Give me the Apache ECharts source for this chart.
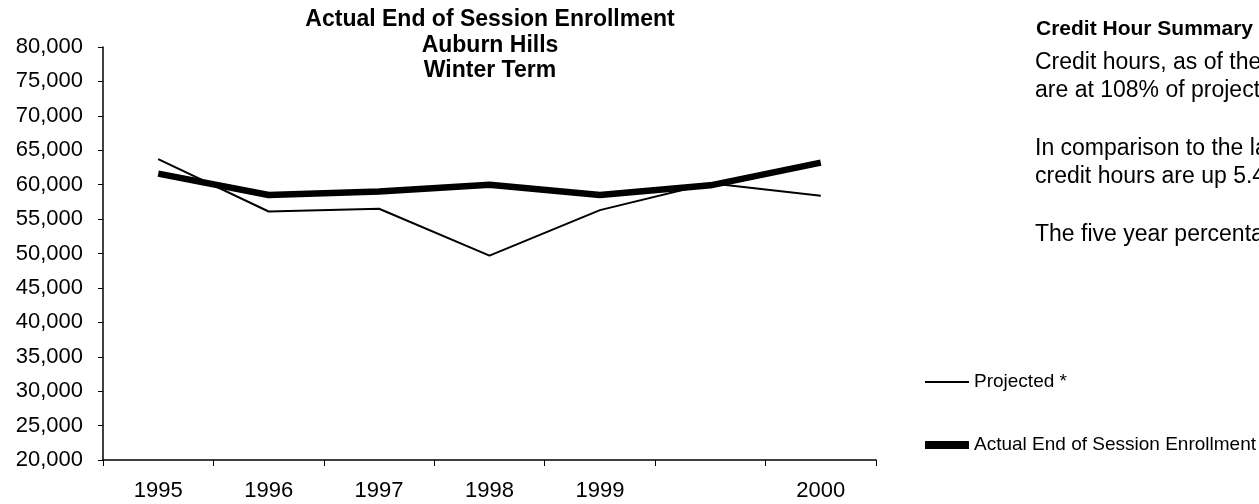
<!DOCTYPE html>
<html>
<head>
<meta charset="utf-8">
<script src="https://cdn.jsdelivr.net/npm/echarts@6/dist/echarts.min.js"></script>
<style>
html,body{margin:0;padding:0;background:#fff;overflow:hidden;}
#c{width:1259px;height:504px;}
</style>
</head>
<body>
<div id="c"></div>
<script>
var categories = ['1995', '1996', '1997', '1998', '1999', '', '2000'];
var projected = [63700, 56100, 56500, 49700, 56300, 60200, 58400];
var actual = [61600, 58500, 59000, 60000, 58500, 59900, 63200];
var titleLines = ['Actual End of Session Enrollment', 'Auburn Hills', 'Winter Term'];
var summaryHeading = 'Credit Hour Summary';
var summaryLines = [
  ['Credit hours, as of the end', 63],
  ['are at 108% of projected', 91],
  ['In comparison to the last', 149],
  ['credit hours are up 5.4%', 177],
  ['The five year percentage', 235]
];
var seriesNames = ['Projected *', 'Actual End of Session Enrollment'];

var FONT = 'Arial, "Liberation Sans", sans-serif';
var chart = echarts.init(document.getElementById('c'), null, {renderer: 'canvas'});

var graphics = [];
titleLines.forEach(function (t, i) {
  graphics.push({
    type: 'text', x: 490, y: 20 + i * 25.5,
    style: {text: t, fontFamily: FONT, fontSize: 23, fontWeight: 'bold', fill: '#000',
      textAlign: 'center', textVerticalAlign: 'middle'}
  });
});
graphics.push({
  type: 'text', x: 1036, y: 29,
  style: {text: summaryHeading, fontFamily: FONT, fontSize: 21, fontWeight: 'bold', fill: '#000',
    textAlign: 'left', textVerticalAlign: 'middle'}
});
summaryLines.forEach(function (s) {
  graphics.push({
    type: 'text', x: 1035, y: s[1],
    style: {text: s[0], fontFamily: FONT, fontSize: 23, fill: '#000',
      textAlign: 'left', textVerticalAlign: 'middle'}
  });
});

chart.setOption({
  animation: false,
  backgroundColor: '#fff',
  grid: {left: 103, right: 383, top: 47, bottom: 44, containLabel: false},
  legend: {
    orient: 'vertical',
    left: 920, top: 367,
    itemWidth: 44, itemHeight: 20, itemGap: 43,
    data: [
      {name: seriesNames[0], icon: 'path://M0,0 L44,0 L44,2 L0,2 Z'},
      {name: seriesNames[1], icon: 'path://M0,0 L44,0 L44,8 L0,8 Z'}
    ],
    textStyle: {fontFamily: FONT, fontSize: 19, lineHeight: 20, color: '#000'}
  },
  xAxis: {
    type: 'category',
    data: categories,
    boundaryGap: true,
    axisLine: {lineStyle: {color: '#000', width: 1.5}},
    axisTick: {show: true, length: 6, lineStyle: {color: '#000'}, interval: 0},
    axisLabel: {interval: 0, margin: 20, fontFamily: FONT, fontSize: 22, color: '#000'},
    splitLine: {show: false}
  },
  yAxis: {
    type: 'value',
    min: 20000, max: 80000, interval: 5000,
    axisLine: {show: true, lineStyle: {color: '#000', width: 1.5}},
    axisTick: {show: true, length: 5, lineStyle: {color: '#000'}},
    axisLabel: {margin: 20, fontFamily: FONT, fontSize: 22, color: '#000',
      formatter: function (v) { return v.toLocaleString('en-US'); }},
    splitLine: {show: false}
  },
  series: [
    {
      name: seriesNames[0], type: 'line', data: projected,
      symbol: 'none', lineStyle: {color: '#000', width: 2}, itemStyle: {color: '#000'}
    },
    {
      name: seriesNames[1], type: 'line', data: actual,
      symbol: 'none', lineStyle: {color: '#000', width: 6.5}, itemStyle: {color: '#000'}
    }
  ],
  graphic: graphics
});
</script>
</body>
</html>
